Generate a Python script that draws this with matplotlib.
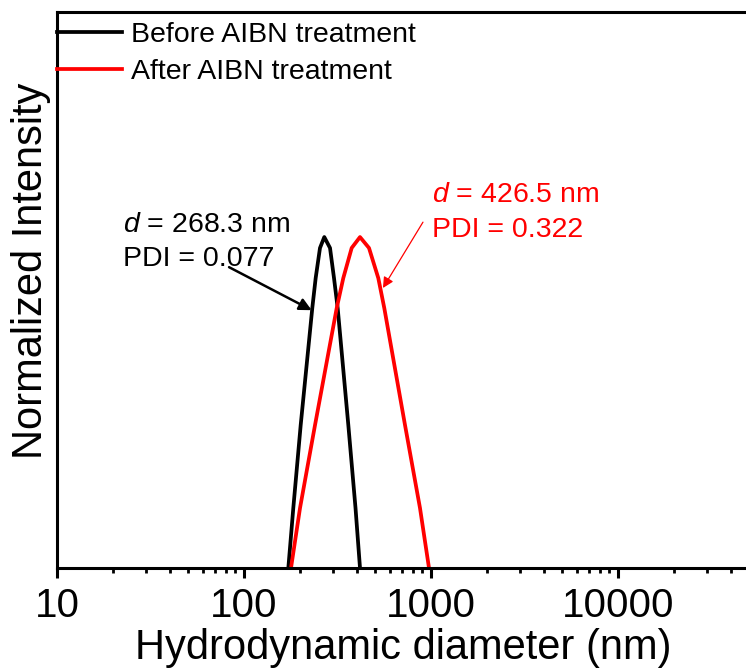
import matplotlib.pyplot as plt
from matplotlib.ticker import LogLocator, NullFormatter

plt.rcParams["font.family"] = ["Liberation Sans", "DejaVu Sans"]
plt.rcParams["mathtext.fontset"] = "custom"
plt.rcParams["mathtext.rm"] = "Liberation Sans"
plt.rcParams["mathtext.it"] = "Liberation Sans:italic"

# DLS size distributions (intensity normalised to peak)
before_d = [172.6, 183.5, 201.0, 231.8, 241.7, 254.9, 268.8, 288.4, 302.9, 317.0, 361.3, 394.8, 417.2]
before_i = [0.0, 0.181, 0.432, 0.785, 0.876, 0.967, 1.0, 0.967, 0.876, 0.785, 0.432, 0.181, 0.0]

after_d = [178.4, 199.3, 239.8, 313.1, 339.6, 376.6, 417.2, 466.1, 522.6, 562.8, 726.1, 873.4, 975.7]
after_i = [0.0, 0.181, 0.432, 0.785, 0.876, 0.967, 1.0, 0.967, 0.876, 0.785, 0.432, 0.181, 0.0]

series_labels = ["Before AIBN treatment", "After AIBN treatment"]
size_text = [r"$\it{d}$ = 268.3 nm", r"$\it{d}$ = 426.5 nm"]
pdi_text = ["PDI = 0.077", "PDI = 0.322"]

x_ticks = [10, 100, 1000, 10000]
x_ticklabels = ["10", "100", "1000", "10000"]

fig = plt.figure(figsize=(7.46, 6.68), dpi=100)
ax = fig.add_axes([57 / 746, 100 / 668, 691.7 / 746, 556 / 668])

ax.plot(before_d, before_i, color="black", lw=2.7, solid_joinstyle="round",
        label=series_labels[0])
ax.plot(after_d, after_i, color="red", lw=2.7, solid_joinstyle="round",
        label=series_labels[1])

ax.set_xscale("log")
ax.set_xlim(10, 50000)
ax.set_ylim(0, 1.68)

ax.set_xticks(x_ticks, x_ticklabels)
ax.xaxis.set_minor_locator(LogLocator(base=10, subs=range(2, 10), numticks=20))
ax.xaxis.set_minor_formatter(NullFormatter())
ax.tick_params(axis="x", which="major", direction="out", length=7, width=2.2,
               labelsize=29, pad=7)
ax.tick_params(axis="x", which="minor", direction="out", length=3.3, width=2)
ax.tick_params(axis="y", left=False, labelleft=False)

for s in ax.spines.values():
    s.set_linewidth(2.2)

ax.set_xlabel("Hydrodynamic diameter (nm)", fontsize=30, labelpad=2)
ax.set_ylabel("Normalized Intensity", fontsize=30)
ax.yaxis.set_label_coords(-0.009, 0.535)

# peak annotations
ax.text(22.5, 1.015, size_text[0], fontsize=20.5, color="black")
ax.text(22.5, 0.912, pdi_text[0], fontsize=20.5, color="black")
ax.annotate("", xy=(230.1, 0.779), xytext=(83.2, 0.909),
            arrowprops=dict(arrowstyle="-|>", color="black", lw=1.8,
                            mutation_scale=18, shrinkA=0, shrinkB=0))

ax.text(1011, 1.106, size_text[1], fontsize=20.5, color="red")
ax.text(1011, 1.0, pdi_text[1], fontsize=20.5, color="red")
ax.annotate("", xy=(553.4, 0.846), xytext=(905.8, 1.045),
            arrowprops=dict(arrowstyle="-|>", color="red", lw=0.9,
                            mutation_scale=16, shrinkA=0, shrinkB=0))

ax.legend(loc="upper left", bbox_to_anchor=(0, 1 - 10 / 556), frameon=False,
          fontsize=20.5, handlelength=2.3, handletextpad=0.3,
          labelspacing=0.40, borderpad=0, borderaxespad=0)

fig.savefig("out.png", dpi=100)
